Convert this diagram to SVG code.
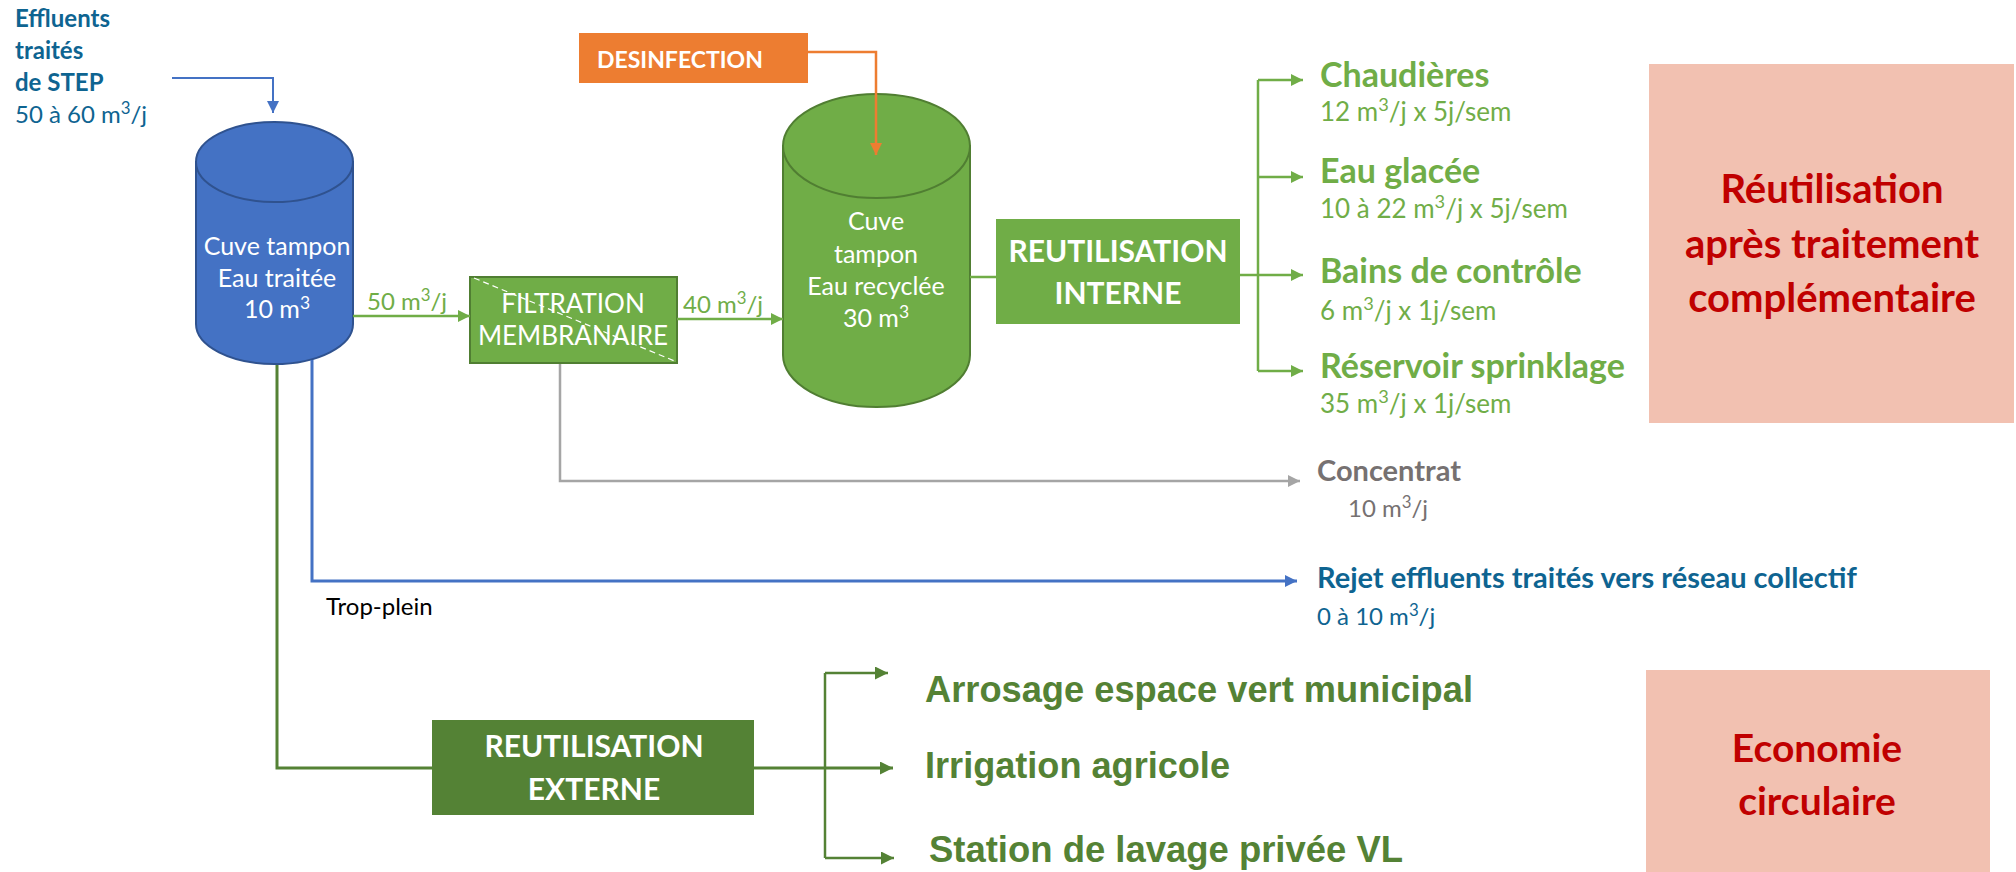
<svg xmlns="http://www.w3.org/2000/svg" width="2016" height="872" viewBox="0 0 2016 872">
  <defs>
    <style>
      .cal { font-family: Lato, "Open Sans", "Liberation Sans", sans-serif; }
      .ari { font-family: "Liberation Sans", Arial, sans-serif; font-weight: bold; }
      .b { font-weight: bold; }
      .w { fill: #ffffff; }
      .teal { fill: #0E6491; }
      .lg { fill: #70AD47; }
      .dg { fill: #548235; }
      .grey { fill: #767171; }
      .red { fill: #C00000; }
      .mid { text-anchor: middle; }
      .sup { font-size: 70%; }
      .ln { fill: none; stroke-linejoin: miter; }
    </style>
    <marker id="ah-blue" viewBox="0 0 12 12" refX="12" refY="6" markerWidth="12" markerHeight="12" markerUnits="userSpaceOnUse" orient="auto">
      <path d="M0,0 L12,6 L0,12 z" fill="#4472C4"/>
    </marker>
    <marker id="ah-green" viewBox="0 0 12 12" refX="12" refY="6" markerWidth="12" markerHeight="12" markerUnits="userSpaceOnUse" orient="auto">
      <path d="M0,0 L12,6 L0,12 z" fill="#70AD47"/>
    </marker>
    <marker id="ah-dgreen" viewBox="0 0 12 12" refX="12" refY="6" markerWidth="13" markerHeight="13" markerUnits="userSpaceOnUse" orient="auto">
      <path d="M0,0 L12,6 L0,12 z" fill="#548235"/>
    </marker>
    <marker id="ah-orange" viewBox="0 0 12 12" refX="12" refY="6" markerWidth="12" markerHeight="12" markerUnits="userSpaceOnUse" orient="auto">
      <path d="M0,0 L12,6 L0,12 z" fill="#ED7D31"/>
    </marker>
    <marker id="ah-grey" viewBox="0 0 12 12" refX="12" refY="6" markerWidth="12" markerHeight="12" markerUnits="userSpaceOnUse" orient="auto">
      <path d="M0,0 L12,6 L0,12 z" fill="#A5A5A5"/>
    </marker>
  </defs>

  <rect width="2016" height="872" fill="#ffffff"/>

  <!-- inlet -->
  <g id="inlet">
    <text class="cal b teal" x="15" y="27" font-size="24">Effluents</text>
    <text class="cal b teal" x="15" y="59" font-size="24">traités</text>
    <text class="cal b teal" x="15" y="91" font-size="24">de STEP</text>
    <text class="cal teal" x="15" y="123" font-size="24">50 à 60 m<tspan class="sup" dy="-9">3</tspan><tspan dy="9">/j</tspan></text>
  </g>

  <!-- buffer tank, treated water -->
  <g id="cuve-eau-traitee">
    <path d="M196,162 V324 A78.5,40 0 0 0 353,324 V162 Z" fill="#4472C4" stroke="#2F528F" stroke-width="2"/>
    <ellipse cx="274.5" cy="162" rx="78.5" ry="40" fill="#4472C4" stroke="#2F528F" stroke-width="2"/>
    <text class="cal w mid" x="277" y="255" font-size="25">Cuve tampon</text>
    <text class="cal w mid" x="277" y="287" font-size="25">Eau traitée</text>
    <text class="cal w mid" x="277" y="318" font-size="25">10 m<tspan class="sup" dy="-9">3</tspan></text>
  </g>

  <g id="label-50">
    <text class="cal lg" x="367" y="310" font-size="24">50 m<tspan class="sup" dy="-9">3</tspan><tspan dy="9">/j</tspan></text>
  </g>

  <!-- membrane filtration -->
  <g id="filtration">
    <rect x="470" y="277" width="207" height="86" fill="#70AD47" stroke="#507E32" stroke-width="2"/>
    <line x1="474" y1="278" x2="677" y2="362" stroke="#ffffff" stroke-width="1.2" stroke-dasharray="6 4"/>
    <text class="cal w mid" x="573" y="313" font-size="26">FILTRATION</text>
    <text class="cal w mid" x="573" y="345" font-size="26">MEMBRANAIRE</text>
  </g>

  <g id="label-40">
    <text class="cal lg" x="683" y="313" font-size="24">40 m<tspan class="sup" dy="-9">3</tspan><tspan dy="9">/j</tspan></text>
  </g>

  <!-- disinfection -->
  <g id="desinfection">
    <rect x="579" y="33" width="229" height="50" fill="#ED7D31"/>
    <text class="cal b w" x="597" y="68" font-size="23">DESINFECTION</text>
  </g>

  <!-- buffer tank, recycled water -->
  <g id="cuve-eau-recyclee">
    <path d="M783,146 V355 A93.5,52 0 0 0 970,355 V146 Z" fill="#70AD47" stroke="#507E32" stroke-width="2"/>
    <ellipse cx="876.5" cy="146" rx="93.5" ry="52" fill="#70AD47" stroke="#507E32" stroke-width="2"/>
    <text class="cal w mid" x="876" y="230" font-size="25">Cuve</text>
    <text class="cal w mid" x="876" y="263" font-size="25">tampon</text>
    <text class="cal w mid" x="876" y="295" font-size="25">Eau recyclée</text>
    <text class="cal w mid" x="876" y="327" font-size="25">30 m<tspan class="sup" dy="-9">3</tspan></text>
  </g>

  <!-- internal reuse -->
  <g id="reutilisation-interne">
    <rect x="996" y="219" width="244" height="105" fill="#70AD47"/>
    <text class="cal b w mid" x="1118" y="262" font-size="30">REUTILISATION</text>
    <text class="cal b w mid" x="1118" y="304" font-size="30">INTERNE</text>
  </g>

  <g id="chaudieres">
    <text class="cal b lg" x="1320" y="87" font-size="34">Chaudières</text>
    <text class="cal lg" x="1320" y="121" font-size="26">12 m<tspan class="sup" dy="-10">3</tspan><tspan dy="10">/j x 5j/sem</tspan></text>
  </g>
  <g id="eau-glacee">
    <text class="cal b lg" x="1320" y="183" font-size="34">Eau glacée</text>
    <text class="cal lg" x="1320" y="218" font-size="26">10 à 22 m<tspan class="sup" dy="-10">3</tspan><tspan dy="10">/j x 5j/sem</tspan></text>
  </g>
  <g id="bains-controle">
    <text class="cal b lg" x="1320" y="283" font-size="34">Bains de contrôle</text>
    <text class="cal lg" x="1320" y="320" font-size="26">6 m<tspan class="sup" dy="-10">3</tspan><tspan dy="10">/j x 1j/sem</tspan></text>
  </g>
  <g id="reservoir-sprinklage">
    <text class="cal b lg" x="1320" y="378" font-size="34">Réservoir sprinklage</text>
    <text class="cal lg" x="1320" y="413" font-size="26">35 m<tspan class="sup" dy="-10">3</tspan><tspan dy="10">/j x 1j/sem</tspan></text>
  </g>

  <g id="panel-traitement">
    <rect x="1649" y="64" width="365" height="359" fill="#F2C1B1"/>
    <text class="cal b red mid" x="1832" y="203" font-size="40">Réutilisation</text>
    <text class="cal b red mid" x="1832" y="258" font-size="40">après traitement</text>
    <text class="cal b red mid" x="1832" y="312" font-size="40">complémentaire</text>
  </g>

  <g id="concentrat">
    <text class="cal b grey" x="1317" y="481" font-size="29">Concentrat</text>
    <text class="cal grey" x="1348" y="517" font-size="24">10 m<tspan class="sup" dy="-9">3</tspan><tspan dy="9">/j</tspan></text>
  </g>

  <g id="rejet">
    <text class="cal b teal" x="1317" y="588" font-size="29">Rejet effluents traités vers réseau collectif</text>
    <text class="cal teal" x="1317" y="625" font-size="24">0 à 10 m<tspan class="sup" dy="-9">3</tspan><tspan dy="9">/j</tspan></text>
  </g>

  <g id="trop-plein">
    <text class="cal" x="326" y="615" font-size="24" fill="#000000">Trop-plein</text>
  </g>

  <!-- external reuse -->
  <g id="reutilisation-externe">
    <rect x="432" y="720" width="322" height="95" fill="#548235"/>
    <text class="cal b w mid" x="594" y="757" font-size="30">REUTILISATION</text>
    <text class="cal b w mid" x="594" y="800" font-size="30">EXTERNE</text>
  </g>

  <g id="arrosage">
    <text class="ari dg" x="925" y="702" font-size="36" textLength="548" lengthAdjust="spacingAndGlyphs">Arrosage espace vert municipal</text>
  </g>
  <g id="irrigation">
    <text class="ari dg" x="925" y="778" font-size="36" textLength="305" lengthAdjust="spacingAndGlyphs">Irrigation agricole</text>
  </g>
  <g id="station-lavage">
    <text class="ari dg" x="929" y="862" font-size="36" textLength="474" lengthAdjust="spacingAndGlyphs">Station de lavage privée VL</text>
  </g>

  <g id="panel-economie">
    <rect x="1646" y="670" width="344" height="202" fill="#F2C1B1"/>
    <text class="cal b red mid" x="1817" y="762" font-size="39">Economie</text>
    <text class="cal b red mid" x="1817" y="815" font-size="39">circulaire</text>
  </g>

  <!-- flows between the units -->
  <g id="connectors" class="ln">
    <path d="M172,78 H273 V113" stroke="#4472C4" stroke-width="2" marker-end="url(#ah-blue)"/>
    <path d="M353,316 H470" stroke="#70AD47" stroke-width="2.5" marker-end="url(#ah-green)"/>
    <path d="M677,319 H783" stroke="#70AD47" stroke-width="2.5" marker-end="url(#ah-green)"/>
    <path d="M808,52 H876 V155" stroke="#ED7D31" stroke-width="2.5" marker-end="url(#ah-orange)"/>
    <path d="M970,277 H996" stroke="#70AD47" stroke-width="2.5"/>
    <path d="M1240,275 H1258" stroke="#70AD47" stroke-width="2.5"/>
    <path d="M1258,80 V371" stroke="#70AD47" stroke-width="2.5"/>
    <path d="M1258,80 H1303" stroke="#70AD47" stroke-width="2.5" marker-end="url(#ah-green)"/>
    <path d="M1258,177 H1303" stroke="#70AD47" stroke-width="2.5" marker-end="url(#ah-green)"/>
    <path d="M1258,275 H1303" stroke="#70AD47" stroke-width="2.5" marker-end="url(#ah-green)"/>
    <path d="M1258,371 H1303" stroke="#70AD47" stroke-width="2.5" marker-end="url(#ah-green)"/>
    <path d="M560,364 V481 H1300" stroke="#A5A5A5" stroke-width="2.5" marker-end="url(#ah-grey)"/>
    <path d="M312,360 V581 H1297" stroke="#4472C4" stroke-width="3" marker-end="url(#ah-blue)"/>
    <path d="M277,365 V768 H432" stroke="#548235" stroke-width="3"/>
    <path d="M754,768 H893" stroke="#548235" stroke-width="3" marker-end="url(#ah-dgreen)"/>
    <path d="M825,673 V858" stroke="#548235" stroke-width="2.5"/>
    <path d="M825,673 H888" stroke="#548235" stroke-width="2.5" marker-end="url(#ah-dgreen)"/>
    <path d="M825,858 H894" stroke="#548235" stroke-width="2.5" marker-end="url(#ah-dgreen)"/>
  </g>
</svg>
